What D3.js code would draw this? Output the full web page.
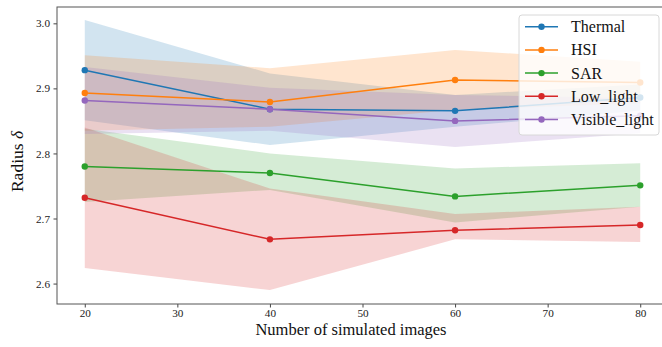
<!DOCTYPE html>
<html>
<head>
<meta charset="utf-8">
<script src="https://cdn.jsdelivr.net/npm/d3@7"></script>
<style>
  body { margin: 0; background: #fff; }
  svg { display: block; font-family: "Liberation Serif", "Times New Roman", Times, serif; }
</style>
</head>
<body>
<div id="chart"></div>
<script>
// x positions (number of simulated images)
const samples = [20, 40, 60, 80];
const seriesNames = ['Thermal', 'HSI', 'SAR', 'Low_light', 'Visible_light'];
const xTicks = [20, 30, 40, 50, 60, 70, 80];
const yTicks = [2.6, 2.7, 2.8, 2.9, 3.0];

// mean radius per series
const thermal = [2.928, 2.868, 2.8655, 2.886];
const hsi = [2.893, 2.879, 2.913, 2.909];
const sar = [2.780, 2.770, 2.734, 2.751];
const lowLight = [2.732, 2.668, 2.682, 2.690];
const visible = [2.8815, 2.868, 2.850, 2.858];

// shaded band lower / upper bounds
const thermalLo = [2.851, 2.813, 2.841, 2.866];
const thermalHi = [3.005, 2.923, 2.890, 2.906];
const hsiLo = [2.835, 2.841, 2.867, 2.877];
const hsiHi = [2.951, 2.931, 2.959, 2.941];
const sarLo = [2.7255, 2.744, 2.694, 2.718];
const sarHi = [2.838, 2.800, 2.777, 2.785];
const lowLightLo = [2.624, 2.590, 2.668, 2.664];
const lowLightHi = [2.840, 2.746, 2.707, 2.718];
const visibleLo = [2.830, 2.835, 2.810, 2.831];
const visibleHi = [2.933, 2.901, 2.890, 2.885];

const colors = ['#1f77b4', '#ff7f0e', '#2ca02c', '#d62728', '#9467bd'];

const series = [
  { name: seriesNames[0], vals: thermal, lo: thermalLo, hi: thermalHi },
  { name: seriesNames[1], vals: hsi, lo: hsiLo, hi: hsiHi },
  { name: seriesNames[2], vals: sar, lo: sarLo, hi: sarHi },
  { name: seriesNames[3], vals: lowLight, lo: lowLightLo, hi: lowLightHi },
  { name: seriesNames[4], vals: visible, lo: visibleLo, hi: visibleHi }
];

const width = 662, height = 347;
const margin = { top: 7, left: 57, bottom: 43, right: -6 };
const innerW = width - margin.left - margin.right;
const innerH = height - margin.top - margin.bottom;
const serif = '"Liberation Serif", "Times New Roman", Times, serif';

const svg = d3.select('#chart').append('svg')
  .attr('width', width)
  .attr('height', height);

const g = svg.append('g')
  .attr('transform', `translate(${margin.left}, ${margin.top})`);

const x = d3.scaleLinear().domain([17, 83]).range([0, innerW]);
const y = d3.scaleLinear().domain([2.5686, 3.0251]).range([innerH, 0]);

// bands first, then lines on top
series.forEach((s, i) => {
  const area = d3.area()
    .x((d, j) => x(samples[j]))
    .y0((d, j) => y(s.lo[j]))
    .y1((d, j) => y(s.hi[j]));
  g.append('path')
    .datum(s.vals)
    .attr('d', area)
    .attr('fill', colors[i])
    .attr('fill-opacity', 0.2);
});

series.forEach((s, i) => {
  const line = d3.line()
    .x((d, j) => x(samples[j]))
    .y(d => y(d));
  g.append('path')
    .datum(s.vals)
    .attr('d', line)
    .attr('fill', 'none')
    .attr('stroke', colors[i])
    .attr('stroke-width', 1.5);
  g.selectAll('.dot-' + i)
    .data(s.vals)
    .enter().append('circle')
    .attr('cx', (d, j) => x(samples[j]))
    .attr('cy', d => y(d))
    .attr('r', 3.2)
    .attr('fill', colors[i]);
});

// axes
const xAxis = g.append('g')
  .attr('transform', `translate(0, ${innerH})`)
  .call(d3.axisBottom(x).tickValues(xTicks).tickSize(3.5).tickPadding(2).tickFormat(d3.format('d')));
const yAxis = g.append('g')
  .call(d3.axisLeft(y).tickValues(yTicks).tickSize(3.5).tickPadding(3.5).tickFormat(d3.format('.1f')));

[xAxis, yAxis].forEach(ax => {
  ax.attr('font-family', serif).attr('font-size', 11.2);
  ax.select('.domain').remove();
  ax.selectAll('line').attr('stroke', '#444');
  ax.selectAll('text').attr('fill', '#222');
});

// frame
g.append('rect')
  .attr('x', 0).attr('y', 0)
  .attr('width', innerW).attr('height', innerH)
  .attr('fill', 'none')
  .attr('stroke', '#555')
  .attr('stroke-width', 1);

// axis labels
svg.append('text')
  .attr('x', 351)
  .attr('y', 334.5)
  .attr('text-anchor', 'middle')
  .attr('fill', '#111')
  .style('font-size', '16.5px')
  .text('Number of simulated images');

const yl = svg.append('text')
  .attr('transform', `translate(23, ${margin.top + innerH / 2 + 6}) rotate(-90)`)
  .attr('text-anchor', 'middle')
  .attr('fill', '#111')
  .style('font-size', '17.5px');
yl.append('tspan').text('Radius ');
yl.append('tspan').style('font-style', 'italic').text('δ');

// legend
const leg = svg.append('g').attr('transform', 'translate(519, 15)');
leg.append('rect')
  .attr('width', 140).attr('height', 120)
  .attr('rx', 3)
  .attr('fill', '#fff').attr('fill-opacity', 0.8)
  .attr('stroke', '#d8d8d8');
series.forEach((s, i) => {
  const row = leg.append('g').attr('transform', `translate(0, ${11.7 + i * 23.2})`);
  row.append('line')
    .attr('x1', 6).attr('x2', 39)
    .attr('stroke', colors[i]).attr('stroke-width', 1.5);
  row.append('circle')
    .attr('cx', 22.5).attr('r', 3.2).attr('fill', colors[i]);
  row.append('text')
    .attr('x', 52).attr('y', 5.5)
    .attr('fill', '#111')
    .style('font-size', '16px')
    .text(s.name);
});
</script>
</body>
</html>
